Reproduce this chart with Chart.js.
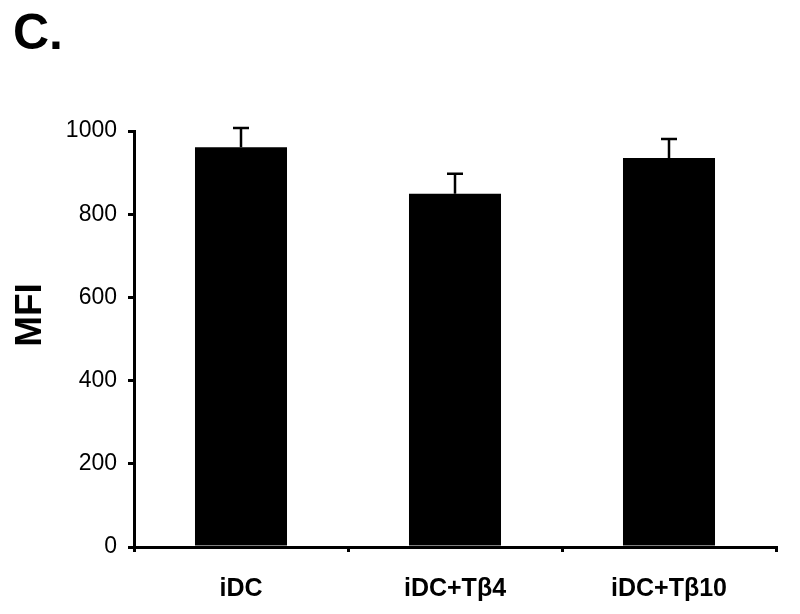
<!DOCTYPE html>
<html><head><meta charset="utf-8">
<script src="https://cdn.jsdelivr.net/npm/chart.js@4/dist/chart.umd.min.js"></script>
<style>
html,body{margin:0;padding:0;background:#fff;}
#wrap{position:relative;width:800px;height:614px;}
#lbl{position:absolute;left:13px;top:7px;font:bold 50px/50px "Liberation Sans",Arial,sans-serif;color:#000;}
</style></head>
<body>
<div id="wrap"><canvas id="c" width="800" height="614"></canvas><div id="lbl">C.</div></div>
<script>
const categories = ["iDC", "iDC+Tβ4", "iDC+Tβ10"];
const mfiValues = [961, 849, 935];
const mfiErrors = [46, 48, 46];
const yTicks = [0, 200, 400, 600, 800, 1000];
const yTitle = "MFI";

const errorBars = {
  id: 'errorBars',
  afterDatasetsDraw(chart) {
    const ctx = chart.ctx, meta = chart.getDatasetMeta(0), y = chart.scales.y;
    ctx.save();
    ctx.strokeStyle = '#000';
    ctx.lineWidth = 2.5;
    meta.data.forEach((bar, i) => {
      const top = y.getPixelForValue(mfiValues[i] + mfiErrors[i]);
      const base = y.getPixelForValue(mfiValues[i]);
      ctx.beginPath();
      ctx.moveTo(bar.x, base); ctx.lineTo(bar.x, top);
      ctx.moveTo(bar.x - 8, top); ctx.lineTo(bar.x + 8, top);
      ctx.stroke();
    });
    ctx.restore();
  }
};

const yTitlePlugin = {
  id: 'yTitle',
  afterDraw(chart) {
    const ctx = chart.ctx;
    ctx.save();
    ctx.translate(31, 315);
    ctx.rotate(-Math.PI / 2);
    ctx.font = 'bold 37px "Liberation Sans", Arial';
    ctx.fillStyle = '#000';
    ctx.textAlign = 'center';
    ctx.textBaseline = 'middle';
    ctx.fillText(yTitle, 0, 0);
    ctx.restore();
  }
};

new Chart(document.getElementById('c'), {
  type: 'bar',
  data: { labels: categories, datasets: [{ data: mfiValues, backgroundColor: '#000', borderWidth: 0, barPercentage: 0.86, categoryPercentage: 0.5 }] },
  options: {
    responsive: false, animation: false,
    layout: { padding: { top: 131, right: 24, left: 0, bottom: 0 } },
    plugins: { legend: { display: false }, tooltip: { enabled: false } },
    scales: {
      x: {
        border: { color: '#000', width: 3 },
        grid: { display: true, drawOnChartArea: false, drawTicks: true, tickLength: 5, color: '#000', lineWidth: 3, offset: true },
        ticks: { color: '#000', font: { family: 'Liberation Sans, Arial', size: 25, weight: 'bold' }, padding: 22 },
        afterFit(s) { s.height = 67; }
      },
      y: {
        min: 0, max: 1000,
        afterBuildTicks(s) { s.ticks = yTicks.map(v => ({ value: v })); },
        border: { color: '#000', width: 3 },
        grid: { display: true, drawOnChartArea: false, drawTicks: true, tickLength: 6, color: '#000', lineWidth: 3 },
        ticks: { color: '#000', font: { family: 'Liberation Sans, Arial', size: 23 }, padding: 11, callback: v => String(v) },
        afterFit(s) { s.width = 134; }
      }
    }
  },
  plugins: [errorBars, yTitlePlugin]
});
</script>
</body></html>
